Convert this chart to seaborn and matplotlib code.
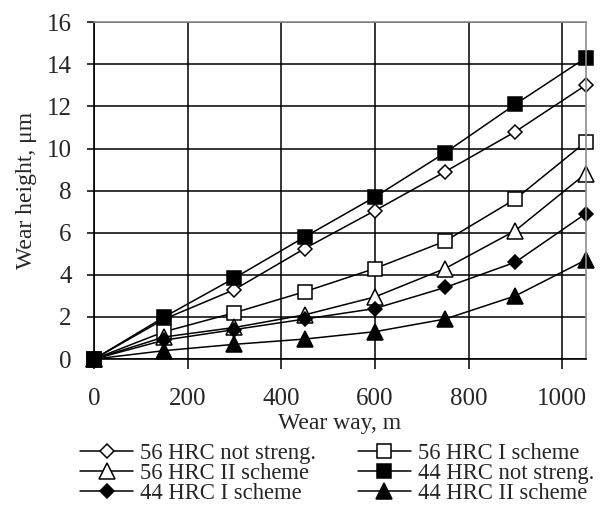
import numpy as np
import pandas as pd
import seaborn as sns
import matplotlib
matplotlib.use("Agg")
import matplotlib.pyplot as plt

# wear way, m
wear_way = [0, 150, 300, 450, 600, 750, 900, 1050]

# wear height, um
hrc56_not_streng = [0, 1.9, 3.3, 5.25, 7.05, 8.9, 10.8, 13.0]
hrc56_scheme1 = [0, 1.3, 2.2, 3.2, 4.3, 5.6, 7.6, 10.3]
hrc56_scheme2 = [0, 1.05, 1.5, 2.1, 2.95, 4.3, 6.1, 8.8]
hrc44_not_streng = [0, 2.0, 3.85, 5.8, 7.7, 9.8, 12.1, 14.3]
hrc44_scheme1 = [0, 0.9, 1.4, 1.9, 2.4, 3.4, 4.6, 6.9]
hrc44_scheme2 = [0, 0.4, 0.7, 0.95, 1.3, 1.9, 3.0, 4.7]

series_names = ["56 HRC not streng.", "56 HRC I scheme", "56 HRC II scheme",
                "44 HRC not streng.", "44 HRC I scheme", "44 HRC II scheme"]
series_values = [hrc56_not_streng, hrc56_scheme1, hrc56_scheme2,
                 hrc44_not_streng, hrc44_scheme1, hrc44_scheme2]

dados = pd.DataFrame({
    "way": wear_way * len(series_names),
    "height": np.concatenate(series_values),
    "serie": np.repeat(series_names, len(wear_way)),
})

sns.set_style("ticks")
plt.rcParams["font.family"] = ["Liberation Serif", "DejaVu Serif"]

# marker, face colour, size for each serie
estilos = {
    "56 HRC not streng.": ("D", "white", 7.5),
    "56 HRC I scheme": ("s", "white", 9.5),
    "56 HRC II scheme": ("^", "white", 11),
    "44 HRC not streng.": ("s", "black", 9.5),
    "44 HRC I scheme": ("D", "black", 7.5),
    "44 HRC II scheme": ("^", "black", 11),
}

fig = plt.figure(figsize=(6.03, 5.05), dpi=100)
ax = fig.add_axes([0.156, 0.289, 0.815, 0.667])

for nome in series_names:
    parte = dados[dados["serie"] == nome]
    m, face, ms = estilos[nome]
    sns.lineplot(data=parte, x="way", y="height", ax=ax, color="black",
                 linewidth=1.1, marker=m, markersize=ms,
                 markerfacecolor=face, markeredgecolor="black",
                 markeredgewidth=1.1, label=nome, legend=False, clip_on=False)

ax.set_xlim(0, 1050)
ax.set_ylim(0, 16)
ax.set_xticks([0, 200, 400, 600, 800, 1000])
ax.set_yticks(range(0, 17, 2))
ax.grid(True, color="black", linewidth=1.1)
ax.set_axisbelow(True)

for lado in ["left", "bottom"]:
    ax.spines[lado].set_color("black")
    ax.spines[lado].set_linewidth(1.2)
for lado in ["top", "right"]:
    ax.spines[lado].set_color("#8c8c8c")
    ax.spines[lado].set_linewidth(1.2)

ax.tick_params(axis="x", direction="out", length=7, width=1.1, labelsize=18, pad=14, color="black")
ax.tick_params(axis="y", direction="out", length=5, width=1.1, labelsize=18, pad=11, color="black")

ax.set_xlabel("Wear way, m", fontsize=17, labelpad=2)
ax.set_ylabel("Wear height, \u03bcm", fontsize=17, labelpad=7)

# legend order as in the reference: two columns, filled row by row
ordem = ["56 HRC not streng.", "56 HRC II scheme", "44 HRC I scheme",
         "56 HRC I scheme", "44 HRC not streng.", "44 HRC II scheme"]
handles, labels = ax.get_legend_handles_labels()
mapa = dict(zip(labels, handles))
fig.legend([mapa[k] for k in ordem], ordem, loc="center", ncol=2,
           bbox_to_anchor=(0.559, 0.062), frameon=False, fontsize=16.3,
           handlelength=2.35, handletextpad=0.3, columnspacing=1.85,
           labelspacing=-0.05, borderpad=0, borderaxespad=0)

fig.savefig("out.png", dpi=100)
